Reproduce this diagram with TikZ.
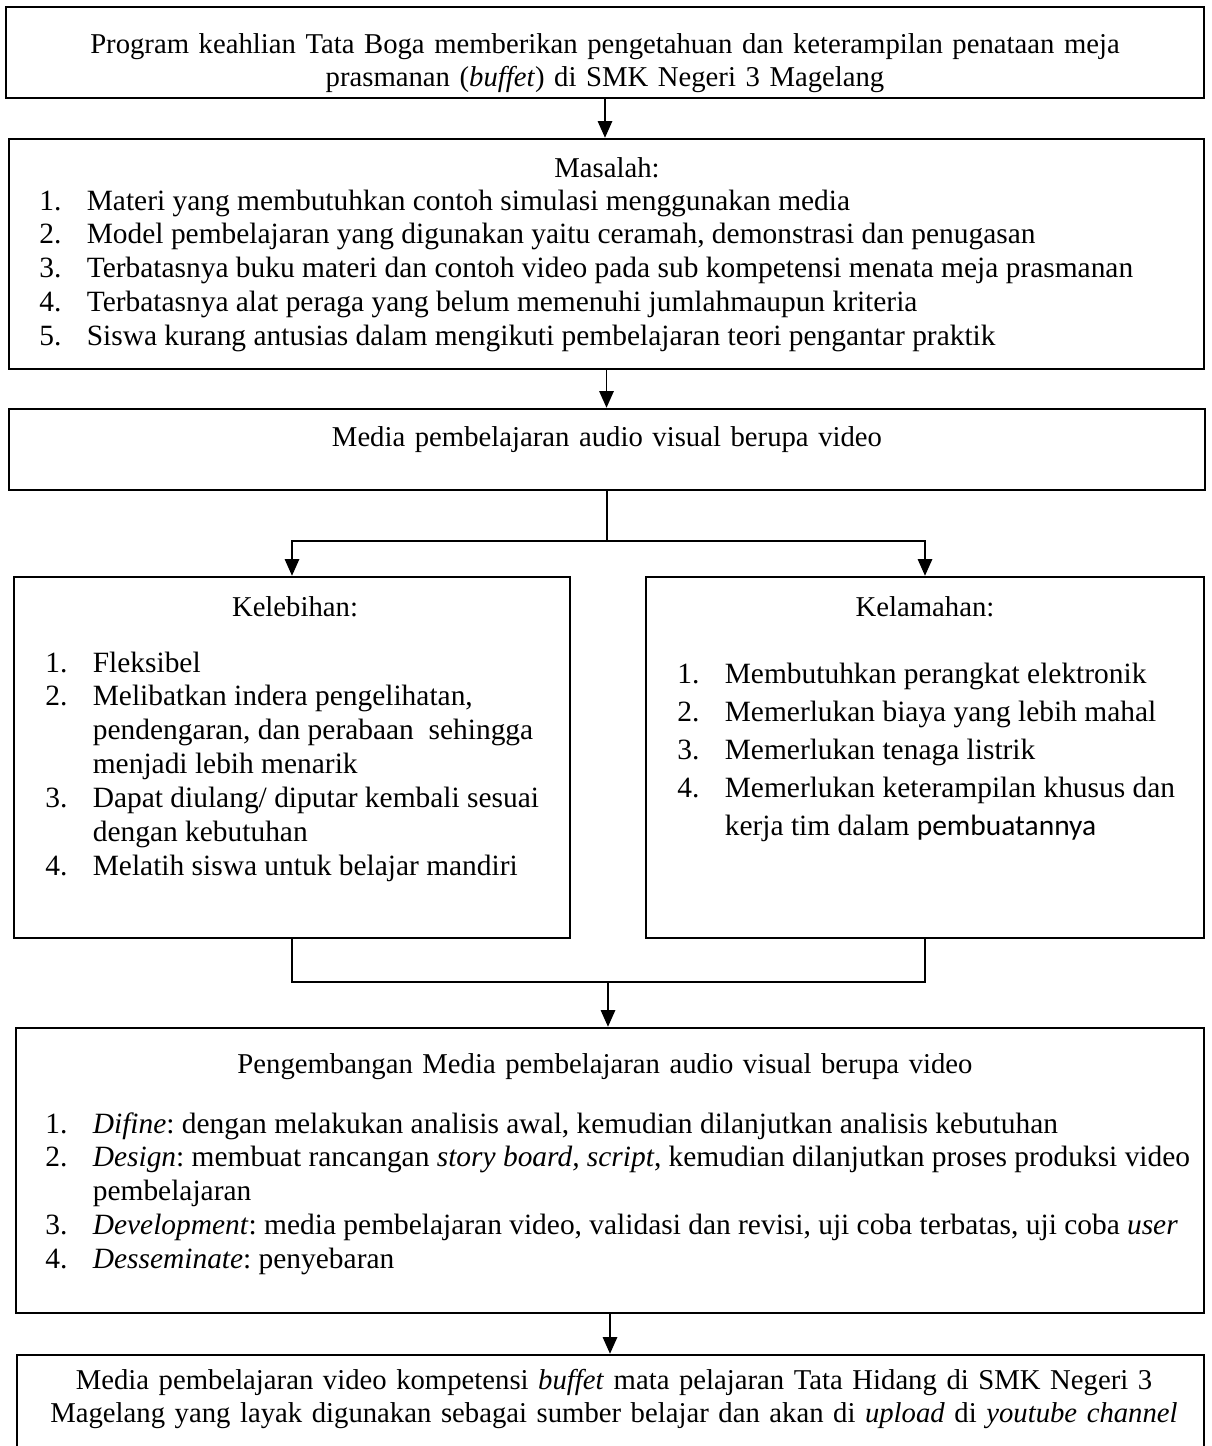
\documentclass[tikz,border=0pt]{standalone}
\usepackage{fontspec}
\setmainfont{Liberation Serif}
\newfontfamily\calibri{Carlito}
\usetikzlibrary{arrows.meta,fit}
\frenchspacing

\newlength{\indenta}
\setlength{\indenta}{19.8pt}
\newcommand{\butir}[2]{\par\noindent\hangindent=\indenta\hangafter=1\makebox[\indenta][l]{#1}#2}
\newcommand{\isi}[2]{\begin{minipage}[t]{#1}\raggedright #2\end{minipage}}

\begin{document}
\begin{tikzpicture}[x=0.418pt,y=-0.418pt,
        kotak/.style={draw,line width=1pt,inner sep=0pt},
        teks/.style={inner sep=0pt,text width=495pt,align=center,anchor=base,font=\fontsize{12}{14.2}\selectfont},
        daftar/.style={inner sep=0pt,anchor=base west,font=\fontsize{12.3}{14.2}\selectfont},
        garis/.style={line width=0.9pt},
        panah/.style={-{Triangle[length=7pt,width=6pt]},line width=0.8pt}]
    \useasboundingbox (0,0) rectangle (1211,1446);

    \node[kotak,fit={(6,7) (1204,98)}] (tujuan) {};
    \node[teks] (tujuanteks) at (605,53) {Program keahlian Tata Boga memberikan pengetahuan dan keterampilan penataan meja\\ prasmanan (\textit{buffet}) di SMK Negeri 3 Magelang};

    \node[kotak,fit={(9,139) (1204,369)}] (masalah) {};
    \node[teks] (masalahjudul) at (607,177) {Masalah:};
    \node[daftar] (masalahisi) at (39,210) {\isi{495pt}{%
        \butir{1.}{Materi yang membutuhkan contoh simulasi menggunakan media}
        \butir{2.}{Model pembelajaran yang digunakan yaitu ceramah, demonstrasi dan penugasan}
        \butir{3.}{Terbatasnya buku materi dan contoh video pada sub kompetensi menata meja prasmanan}
        \butir{4.}{Terbatasnya alat peraga yang belum memenuhi jumlahmaupun kriteria}
        \butir{5.}{Siswa kurang antusias dalam mengikuti pembelajaran teori pengantar praktik}}};

    \node[kotak,fit={(9,409) (1205,490)}] (media) {};
    \node[teks] (mediateks) at (607,446) {Media pembelajaran audio visual berupa video};

    \node[kotak,fit={(14,577) (570,938)}] (lebih) {};
    \node[teks,text width=220pt] (lebihjudul) at (295,616) {Kelebihan:};
    \node[daftar] (lebihisi) at (45,672) {\isi{225pt}{%
        \butir{1.}{Fleksibel}
        \butir{2.}{Melibatkan indera pengelihatan,\newline pendengaran, dan perabaan\ \ sehingga\newline menjadi lebih menarik}
        \butir{3.}{Dapat diulang/ diputar kembali sesuai\newline dengan kebutuhan}
        \butir{4.}{Melatih siswa untuk belajar mandiri}}};

    \node[kotak,fit={(646,577) (1204,938)}] (lemah) {};
    \node[teks,text width=220pt] (lemahjudul) at (925,616) {Kelamahan:};
    \node[daftar,font=\fontsize{12.3}{15.9}\selectfont] (lemahisi) at (677,683) {\isi{225pt}{%
        \butir{1.}{Membutuhkan perangkat elektronik}
        \butir{2.}{Memerlukan biaya yang lebih mahal}
        \butir{3.}{Memerlukan tenaga listrik}
        \butir{4.}{Memerlukan keterampilan khusus dan\newline kerja tim dalam {\calibri pembuatannya}}}};

    \node[kotak,fit={(16,1028) (1204,1313)}] (kembang) {};
    \node[teks] (kembangjudul) at (605,1073) {Pengembangan Media pembelajaran audio visual berupa video};
    \node[daftar] (kembangisi) at (45,1133) {\isi{495pt}{%
        \butir{1.}{\textit{Difine}: dengan melakukan analisis awal, kemudian dilanjutkan analisis kebutuhan}
        \butir{2.}{\textit{Design}: membuat rancangan \textit{story board, script}, kemudian dilanjutkan proses produksi video\newline pembelajaran}
        \butir{3.}{\textit{Development}: media pembelajaran video, validasi dan revisi, uji coba terbatas, uji coba \textit{user}}
        \butir{4.}{\textit{Desseminate}: penyebaran}}};

    \node[kotak,fit={(17,1355) (1204,1470)}] (hasil) {};
    \node[teks] (hasilteks) at (614,1389) {Media pembelajaran video kompetensi \textit{buffet} mata pelajaran Tata Hidang di SMK Negeri 3\\ Magelang yang layak digunakan sebagai sumber belajar dan akan di \textit{upload} di \textit{youtube channel}};

    \draw[panah] (tujuan.south) -- (tujuan.south |- masalah.north);
    \draw[panah] (masalah.south) -- (masalah.south |- media.north);
    \draw[garis] (media.south) -- ++(0,50) coordinate (cabang);
    \draw[panah] (cabang) -| (lebih.north);
    \draw[panah] (cabang) -| (lemah.north);
    \coordinate (gabung) at (608,982);
    \draw[garis] (lebih.south) |- (gabung);
    \draw[garis] (lemah.south) |- (gabung);
    \draw[panah] (gabung) -- (gabung |- kembang.north);
    \draw[panah] (kembang.south) -- (kembang.south |- hasil.north);
\end{tikzpicture}
\end{document}
